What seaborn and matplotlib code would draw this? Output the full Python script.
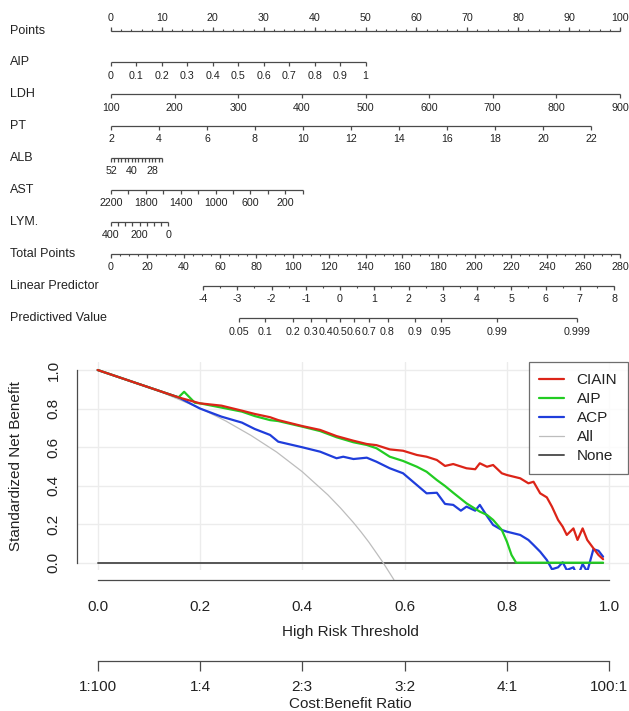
import numpy as np
import pandas as pd
import matplotlib
matplotlib.use("Agg")
import matplotlib.pyplot as plt
import seaborn as sns
from matplotlib.lines import Line2D

sns.set_style("white")
plt.rcParams['font.family'] = ['Liberation Sans', 'DejaVu Sans']

# ---------------- nomogram scales ----------------
points_major = np.arange(0, 101, 10)
points_minor = np.arange(0, 101, 2)

aip_ticks = [0, 0.1, 0.2, 0.3, 0.4, 0.5, 0.6, 0.7, 0.8, 0.9, 1]
aip_labels = ['0', '0.1', '0.2', '0.3', '0.4', '0.5', '0.6', '0.7', '0.8', '0.9', '1']
aip_pts_per_unit = 50.0

ldh_ticks = [100, 200, 300, 400, 500, 600, 700, 800, 900]
ldh_pts_per_unit = 100.0 / 800

pt_ticks = [2, 4, 6, 8, 10, 12, 14, 16, 18, 20, 22]
pt_pts_per_unit = 4.715

alb_ticks = [52, 50, 48, 46, 44, 42, 40, 38, 36, 34, 32, 30, 28, 26, 24, 22]
alb_labeled = [52, 40, 28]
alb_pts_per_unit = 0.336

ast_ticks = [2200, 2000, 1800, 1600, 1400, 1200, 1000, 800, 600, 400, 200, 0]
ast_labeled = [2200, 1800, 1400, 1000, 600, 200]
ast_pts_per_unit = 37.66 / 2200

lym_ticks = [400, 350, 300, 250, 200, 150, 100, 50, 0]
lym_labeled = [400, 200, 0]
lym_pts_per_unit = 11.26 / 400

total_major = np.arange(0, 281, 20)
total_minor = np.arange(0, 281, 5)

lp_major = np.arange(-4, 9, 1)
lp_minor = np.arange(-4, 8.01, 0.5)
lp_zero_total = 126.0      # total points where linear predictor = 0
lp_total_per_unit = 18.84  # total points per unit of linear predictor

pv_ticks = [0.05, 0.1, 0.2, 0.3, 0.4, 0.5, 0.6, 0.7, 0.8, 0.9, 0.95, 0.99, 0.999]
pv_labels = ['0.05', '0.1', '0.2', '0.3', '0.4', '0.5', '0.6', '0.7', '0.8', '0.9', '0.95', '0.99', '0.999']

row_names = ['Points', 'AIP', 'LDH', 'PT', 'ALB', 'AST', 'LYM.', 'Total Points',
             'Linear Predictor', 'Predictived Value']

# ---------------- decision curves ----------------
red_t = [0, 0.05, 0.10, 0.158, 0.2, 0.242, 0.282, 0.307, 0.337, 0.353, 0.40, 0.435, 0.467,
         0.50, 0.526, 0.545, 0.571, 0.597, 0.624, 0.643, 0.663, 0.679, 0.695, 0.721, 0.738,
         0.747, 0.761, 0.773, 0.79, 0.80, 0.826, 0.842, 0.852, 0.865, 0.878, 0.888, 0.90,
         0.909, 0.917, 0.93, 0.938, 0.948, 0.957, 0.969, 0.979, 0.988]
red_v = [1.0, 0.955, 0.91, 0.858, 0.827, 0.815, 0.789, 0.772, 0.755, 0.74, 0.709, 0.689, 0.657,
         0.633, 0.616, 0.61, 0.588, 0.581, 0.559, 0.55, 0.533, 0.502, 0.512, 0.49, 0.485,
         0.516, 0.498, 0.507, 0.464, 0.455, 0.438, 0.412, 0.42, 0.36, 0.339, 0.291, 0.222,
         0.187, 0.144, 0.178, 0.118, 0.178, 0.118, 0.075, 0.04, 0.018]

green_t = [0, 0.05, 0.10, 0.158, 0.169, 0.19, 0.2, 0.242, 0.282, 0.307, 0.337, 0.353, 0.40,
           0.435, 0.467, 0.50, 0.526, 0.545, 0.571, 0.597, 0.624, 0.643, 0.663, 0.679, 0.695,
           0.721, 0.747, 0.761, 0.773, 0.79, 0.80, 0.809, 0.818, 0.988]
green_v = [1.0, 0.955, 0.91, 0.858, 0.887, 0.83, 0.827, 0.805, 0.784, 0.761, 0.74, 0.735, 0.706,
           0.683, 0.651, 0.625, 0.611, 0.594, 0.55, 0.528, 0.498, 0.472, 0.429, 0.398, 0.363,
           0.308, 0.265, 0.248, 0.222, 0.17, 0.109, 0.04, 0.0, 0.0]

blue_t = [0, 0.05, 0.10, 0.158, 0.2, 0.242, 0.282, 0.307, 0.337, 0.353, 0.40, 0.435, 0.467,
          0.48, 0.50, 0.526, 0.545, 0.571, 0.597, 0.624, 0.643, 0.663, 0.679, 0.695, 0.71,
          0.721, 0.738, 0.747, 0.761, 0.773, 0.79, 0.80, 0.826, 0.842, 0.852, 0.865, 0.878,
          0.888, 0.90, 0.909, 0.917, 0.93, 0.938, 0.948, 0.957, 0.969, 0.979, 0.988]
blue_v = [1.0, 0.955, 0.91, 0.858, 0.80, 0.758, 0.727, 0.694, 0.663, 0.628, 0.599, 0.576, 0.542,
          0.55, 0.538, 0.545, 0.524, 0.49, 0.464, 0.403, 0.36, 0.363, 0.305, 0.30, 0.27,
          0.291, 0.27, 0.3, 0.242, 0.196, 0.17, 0.161, 0.144, 0.118, 0.092, 0.057, 0.014,
          -0.034, -0.024, 0.002, -0.038, -0.024, -0.073, -0.007, -0.047, 0.07, 0.062, 0.031]

all_t = [0, 0.1, 0.2, 0.25, 0.3, 0.35, 0.4, 0.45, 0.475, 0.5, 0.515, 0.53, 0.545, 0.558, 0.579]
all_v = [1.0, 0.912, 0.802, 0.736, 0.66, 0.574, 0.472, 0.352, 0.283, 0.208, 0.159, 0.107,
         0.05, 0.0, -0.088]

none_t = [0, 0.988]
none_v = [0, 0]

x_ticks = [0.0, 0.2, 0.4, 0.6, 0.8, 1.0]
x_labels = ['0.0', '0.2', '0.4', '0.6', '0.8', '1.0']
cb_labels = ['1:100', '1:4', '2:3', '3:2', '4:1', '100:1']
y_ticks = [0.0, 0.2, 0.4, 0.6, 0.8, 1.0]

TXT = '#222222'
LN = '#4a4a4a'

fig = plt.figure(figsize=(6.29, 7.11), dpi=100)

# ================= nomogram =================
nax = fig.add_axes([0, 1 - 345 / 711, 1, 345 / 711])
nax.set_xlim(-111 / 5.09, (629 - 111) / 5.09)
nax.set_ylim(345, 0)
nax.axis('off')

row_y = [31, 62.3, 94.3, 126, 157.7, 190, 221.7, 254, 285.7, 318.3]


def draw_row(y, major_pos, major_lbl, minor_pos=None, up=False):
    allpos = list(major_pos) + (list(minor_pos) if minor_pos is not None else [])
    nax.plot([min(allpos), max(allpos)], [y, y], color=LN, lw=0.9, solid_capstyle='butt')
    d = -1 if up else 1
    nax.vlines(major_pos, y, y + d * 4, color=LN, lw=0.9)
    if minor_pos is not None:
        nax.vlines(minor_pos, y, y + d * 2, color=LN, lw=0.8)
    for p, s in zip(major_pos, major_lbl):
        if s:
            nax.text(p, y + d * 13.3, s, ha='center', va='center', fontsize=7.7, color=TXT)


for name, y in zip(row_names, row_y):
    nax.text(-111 / 5.09 + 10 / 5.09, y, name, ha='left', va='center', fontsize=9, color=TXT)

draw_row(row_y[0], points_major, [str(v) for v in points_major], points_minor, up=True)
draw_row(row_y[1], [v * aip_pts_per_unit for v in aip_ticks], aip_labels)
draw_row(row_y[2], [(v - 100) * ldh_pts_per_unit for v in ldh_ticks], [str(v) for v in ldh_ticks])
draw_row(row_y[3], [(v - 2) * pt_pts_per_unit for v in pt_ticks], [str(v) for v in pt_ticks])
draw_row(row_y[4], [(52 - v) * alb_pts_per_unit for v in alb_ticks],
         [str(v) if v in alb_labeled else '' for v in alb_ticks])
draw_row(row_y[5], [(2200 - v) * ast_pts_per_unit for v in ast_ticks],
         [str(v) if v in ast_labeled else '' for v in ast_ticks])
draw_row(row_y[6], [(400 - v) * lym_pts_per_unit for v in lym_ticks],
         [str(v) if v in lym_labeled else '' for v in lym_ticks])
draw_row(row_y[7], [v * 100 / 280 for v in total_major], [str(v) for v in total_major],
         [v * 100 / 280 for v in total_minor])
lp_to_disp = lambda lp: (lp_zero_total + lp_total_per_unit * lp) * 100 / 280
draw_row(row_y[8], [lp_to_disp(v) for v in lp_major], [str(v) for v in lp_major],
         [lp_to_disp(v) for v in lp_minor])
draw_row(row_y[9], [lp_to_disp(np.log(p / (1 - p))) for p in pv_ticks], pv_labels)

# ================= decision curve =================
ax = fig.add_axes([77.2 / 629, 1 - 570.4 / 711, 552.5 / 629, 208.1 / 711])
ax.set_xlim(-0.04, 1.04)
ax.set_ylim(-0.04, 1.04)

for v in x_ticks:
    ax.axvline(v, color='#ececec', lw=1.0, zorder=0)
for v in y_ticks:
    ax.axhline(v, color='#ececec', lw=1.0, zorder=0)

series = [
    ('None', none_t, none_v, '#555555', 1.4),
    ('All', all_t, all_v, '#bdbdbd', 0.9),
    ('ACP', blue_t, blue_v, '#1f3ddb', 1.6),
    ('AIP', green_t, green_v, '#22cc22', 1.6),
    ('CIAIN', red_t, red_v, '#dc2418', 1.6),
]
for name, t, v, c, lw in series:
    df = pd.DataFrame({'threshold': t, 'nb': v})
    sns.lineplot(data=df, x='threshold', y='nb', ax=ax, color=c, lw=lw,
                 estimator=None, sort=False, clip_on=(name != 'All'))

ax.set_xticks(x_ticks, labels=x_labels)
ax.set_yticks(y_ticks, labels=['0.0', '0.2', '0.4', '0.6', '0.8', '1.0'])
plt.setp(ax.get_yticklabels(), rotation=90, va='center')
ax.tick_params(axis='both', length=7, width=0.9, color=LN, labelsize=11,
               labelcolor=TXT, pad=5)
ax.tick_params(axis='x', pad=7)
for s in ['top', 'right']:
    ax.spines[s].set_visible(False)
ax.spines['left'].set_bounds(0, 1)
ax.spines['bottom'].set_bounds(0, 1)
ax.spines['bottom'].set_position(('outward', 7.2))
for s in ['left', 'bottom']:
    ax.spines[s].set_color(LN)
    ax.spines[s].set_linewidth(0.9)

ax.set_xlabel('High Risk Threshold', fontsize=11, color=TXT)
ax.xaxis.set_label_coords(0.494, -0.262)
ax.set_ylabel('Standardized Net Benefit', fontsize=11, color=TXT)
ax.yaxis.set_label_coords(-0.098, 0.5)

sec = ax.secondary_xaxis(-0.435)
sec.set_xticks(x_ticks, labels=cb_labels)
sec.tick_params(axis='x', length=7, width=0.9, color=LN, labelsize=11,
                labelcolor=TXT, pad=7)
sec.spines['bottom'].set_bounds(0, 1)
sec.spines['bottom'].set_color(LN)
sec.spines['bottom'].set_linewidth(0.9)
sec.set_xlabel('Cost:Benefit Ratio', fontsize=11, color=TXT)
sec.xaxis.set_label_coords(0.494, -0.61, transform=ax.transAxes)

handles = [Line2D([], [], color='#dc2418', lw=1.6),
           Line2D([], [], color='#22cc22', lw=1.6),
           Line2D([], [], color='#1f3ddb', lw=1.6),
           Line2D([], [], color='#bdbdbd', lw=0.9),
           Line2D([], [], color='#555555', lw=1.4)]
leg = ax.legend(handles, ['CIAIN', 'AIP', 'ACP', 'All', 'None'], loc='upper right',
                bbox_to_anchor=(0.997, 1.0), fontsize=11, frameon=True, fancybox=False,
                handlelength=1.6, handletextpad=0.85, labelspacing=0.33,
                borderpad=0.7, borderaxespad=0)
leg.get_frame().set_edgecolor(LN)
leg.get_frame().set_linewidth(0.9)
for txt in leg.get_texts():
    txt.set_color(TXT)

fig.savefig('out.png', dpi=100)
